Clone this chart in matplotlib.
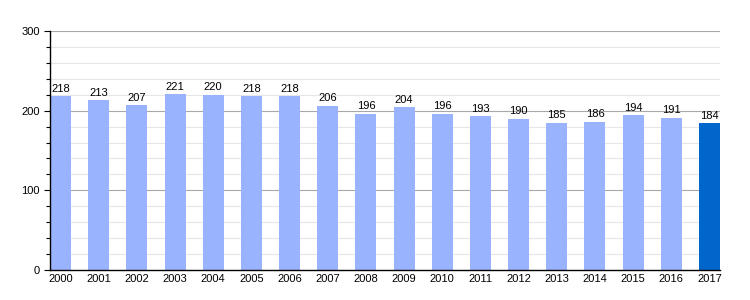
import matplotlib
matplotlib.use("Agg")
import matplotlib.pyplot as plt
from matplotlib.ticker import MultipleLocator

plt.rcParams['font.family'] = ['Liberation Sans', 'DejaVu Sans']

years = [str(y) for y in range(2000, 2018)]
values = [218, 213, 207, 221, 220, 218, 218, 206, 196, 204, 196, 193, 190, 185, 186, 194, 191, 184]
colors = ["#99b3ff"] * 17 + ["#0066cc"]

fig = plt.figure(figsize=(7.5, 3), dpi=100)
ax = fig.add_axes([50/750, 1-270/300, 670/750, 239/300])
x = list(range(len(years)))
ax.set_xlim(-0.275, len(years) - 1 + 0.275)
ax.set_ylim(0, 300)
for yv in range(20, 300, 20):
    if yv % 100:
        ax.axhline(yv, color="#e6e6e6", lw=0.8, zorder=0)
for yv in (100, 200, 300):
    ax.axhline(yv, color="#a8a8a8", lw=0.8, zorder=0)
bars = ax.bar(x, values, width=0.55, color=colors, zorder=2)
for xi, v in zip(x, values):
    ax.text(xi, v + 3, str(v), ha="center", va="bottom", fontsize=8)
ax.set_xticks(x)
ax.set_xticklabels(years, fontsize=8)
ax.yaxis.set_major_locator(MultipleLocator(100))
ax.yaxis.set_minor_locator(MultipleLocator(20))
ax.tick_params(axis="y", labelsize=8, length=4, width=0.8)
ax.tick_params(axis="y", which="minor", length=3, width=0.8)
ax.tick_params(axis="x", length=0, pad=3)
for s in ("top", "right"):
    ax.spines[s].set_visible(False)
ax.spines["left"].set_linewidth(1)
ax.spines["bottom"].set_linewidth(1)
fig.savefig("out.png", dpi=100)
